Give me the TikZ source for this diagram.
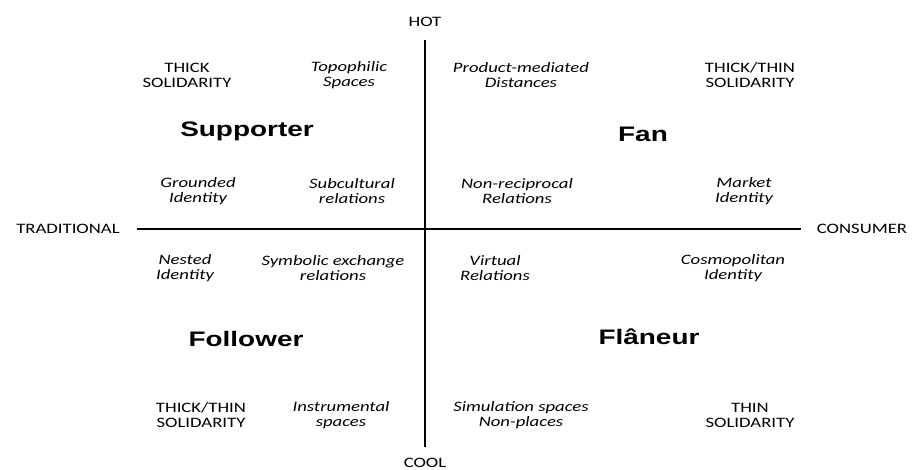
\documentclass[tikz,border=0pt]{standalone}
\usepackage{fontspec}
\newfontfamily\cellfont[FakeStretch=1.3]{Carlito}
\newfontfamily\typefont[FakeStretch=1.33]{Liberation Sans}
\usepackage{tikz}

\tikzset{
  axislabel/.style={font=\cellfont\fontsize{14.4}{15}\selectfont, inner sep=0pt},
  trait/.style={align=center, inner sep=0pt, font=\cellfont\itshape\fontsize{14.4}{15}\selectfont},
  solidity/.style={align=center, inner sep=0pt, font=\cellfont\fontsize{14.4}{15}\selectfont},
  typename/.style={inner sep=0pt, font=\typefont\bfseries\fontsize{21}{24}\selectfont}
}

\begin{document}
\begin{tikzpicture}[x=1pt, y=-1pt]
        \useasboundingbox (0,0) rectangle (912,470);
        % Axes
        \node[axislabel] (HOT) at (425,22) {HOT};
        \node[axislabel] (COOL) at (425,463) {COOL};
        \node[axislabel] (TRAD) at (68,229) {TRADITIONAL};
        \node[axislabel] (CONS) at (862,229) {CONSUMER};
        \draw[line width=2.8pt, shorten <=13pt, shorten >=11pt] (HOT) -- (COOL);
        \draw[line width=2pt, shorten <=17pt, shorten >=16pt] (TRAD) -- (CONS);
        % Supporter
        \node[typename] (SUP) at (247,131) {Supporter};
        \node[solidity] (SUPsol) at (187,75) {THICK\\SOLIDARITY};
        \node[trait] (SUPspace) at (349,75) {Topophilic\\Spaces};
        \node[trait] (SUPid) at (198,191) {Grounded\\Identity};
        \node[trait] (SUPrel) at (352,191) {Subcultural\\relations};
        % Fan
        \node[typename] (FAN) at (643,134) {Fan};
        \node[trait] (FANspace) at (521,75) {Product-mediated\\Distances};
        \node[solidity] (FANsol) at (750,75) {THICK/THIN\\SOLIDARITY};
        \node[trait] (FANrel) at (517,191) {Non-reciprocal\\Relations};
        \node[trait] (FANid) at (744,191) {Market\\Identity};
        % Follower
        \node[typename] (FOL) at (246,339) {Follower};
        \node[trait] (FOLid) at (185,268) {Nested\\Identity};
        \node[trait] (FOLrel) at (333,268) {Symbolic exchange\\relations};
        \node[solidity] (FOLsol) at (201,415) {THICK/THIN\\SOLIDARITY};
        \node[trait] (FOLspace) at (341,415) {Instrumental\\spaces};
        % Flaneur
        \node[typename] (FLA) at (649,337) {Flâneur};
        \node[trait] (FLArel) at (495,268) {Virtual\\Relations};
        \node[trait] (FLAid) at (733,268) {Cosmopolitan\\Identity};
        \node[trait] (FLAspace) at (521,415) {Simulation spaces\\Non-places};
        \node[solidity] (FLAsol) at (750,415) {THIN\\SOLIDARITY};
      \end{tikzpicture}
\end{document}
